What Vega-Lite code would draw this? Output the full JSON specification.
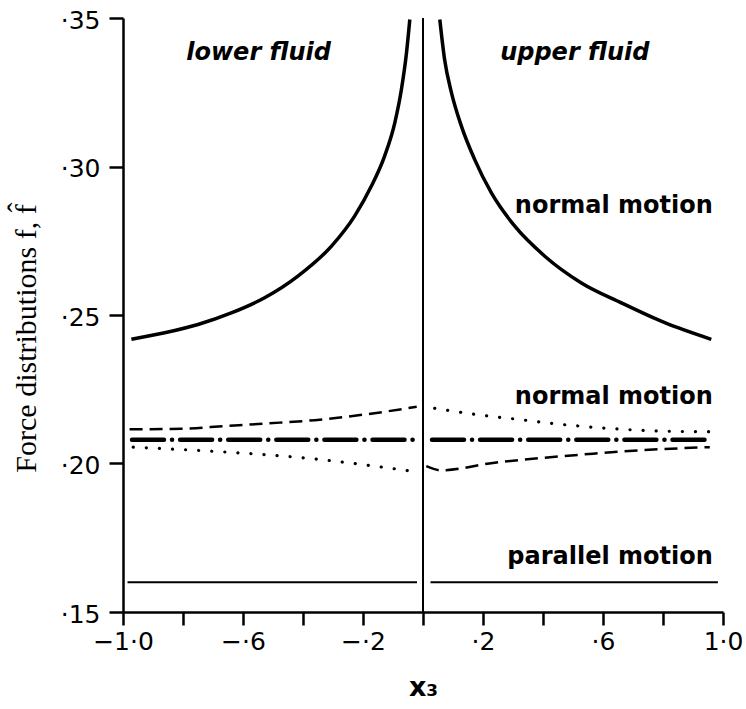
{
  "$schema": "https://vega.github.io/schema/vega-lite/v6.json",
  "width": 600,
  "height": 594,
  "autosize": {"type": "none"},
  "padding": {"left": 123, "top": 18, "right": 23, "bottom": 97},
  "background": "white",
  "config": {"view": {"stroke": null}},
  "datasets": {
    "curves": [
      {"series": "A", "side": "lower", "x": -0.972, "f": 0.2418},
      {"series": "A", "side": "lower", "x": -0.861, "f": 0.2440},
      {"series": "A", "side": "lower", "x": -0.750, "f": 0.2468},
      {"series": "A", "side": "lower", "x": -0.639, "f": 0.2507},
      {"series": "A", "side": "lower", "x": -0.528, "f": 0.2558},
      {"series": "A", "side": "lower", "x": -0.417, "f": 0.2631},
      {"series": "A", "side": "lower", "x": -0.305, "f": 0.2732},
      {"series": "A", "side": "lower", "x": -0.228, "f": 0.2833},
      {"series": "A", "side": "lower", "x": -0.172, "f": 0.2934},
      {"series": "A", "side": "lower", "x": -0.128, "f": 0.3035},
      {"series": "A", "side": "lower", "x": -0.094, "f": 0.3147},
      {"series": "A", "side": "lower", "x": -0.072, "f": 0.3259},
      {"series": "A", "side": "lower", "x": -0.055, "f": 0.3383},
      {"series": "A", "side": "lower", "x": -0.044, "f": 0.3495},
      {"series": "A", "side": "upper", "x": 0.056, "f": 0.3495},
      {"series": "A", "side": "upper", "x": 0.072, "f": 0.3360},
      {"series": "A", "side": "upper", "x": 0.095, "f": 0.3248},
      {"series": "A", "side": "upper", "x": 0.128, "f": 0.3136},
      {"series": "A", "side": "upper", "x": 0.172, "f": 0.3024},
      {"series": "A", "side": "upper", "x": 0.228, "f": 0.2911},
      {"series": "A", "side": "upper", "x": 0.306, "f": 0.2799},
      {"series": "A", "side": "upper", "x": 0.406, "f": 0.2698},
      {"series": "A", "side": "upper", "x": 0.528, "f": 0.2608},
      {"series": "A", "side": "upper", "x": 0.661, "f": 0.2541},
      {"series": "A", "side": "upper", "x": 0.806, "f": 0.2474},
      {"series": "A", "side": "upper", "x": 0.961, "f": 0.2418},
      {"series": "B", "side": "lower", "x": -0.978, "f": 0.2115},
      {"series": "B", "side": "lower", "x": -0.804, "f": 0.2117},
      {"series": "B", "side": "lower", "x": -0.661, "f": 0.2126},
      {"series": "B", "side": "lower", "x": -0.518, "f": 0.2135},
      {"series": "B", "side": "lower", "x": -0.361, "f": 0.2146},
      {"series": "B", "side": "lower", "x": -0.194, "f": 0.2165},
      {"series": "B", "side": "lower", "x": -0.021, "f": 0.2191},
      {"series": "B", "side": "upper", "x": 0.011, "f": 0.1991},
      {"series": "B", "side": "upper", "x": 0.061, "f": 0.1977},
      {"series": "B", "side": "upper", "x": 0.233, "f": 0.2002},
      {"series": "B", "side": "upper", "x": 0.400, "f": 0.2019},
      {"series": "B", "side": "upper", "x": 0.567, "f": 0.2033},
      {"series": "B", "side": "upper", "x": 0.733, "f": 0.2045},
      {"series": "B", "side": "upper", "x": 0.956, "f": 0.2055},
      {"series": "C", "side": "lower", "x": -0.966, "f": 0.2055},
      {"series": "C", "side": "lower", "x": -0.805, "f": 0.2047},
      {"series": "C", "side": "lower", "x": -0.650, "f": 0.2038},
      {"series": "C", "side": "lower", "x": -0.494, "f": 0.2027},
      {"series": "C", "side": "lower", "x": -0.339, "f": 0.2013},
      {"series": "C", "side": "lower", "x": -0.183, "f": 0.1994},
      {"series": "C", "side": "lower", "x": -0.050, "f": 0.1976},
      {"series": "C", "side": "upper", "x": 0.039, "f": 0.2186},
      {"series": "C", "side": "upper", "x": 0.178, "f": 0.2165},
      {"series": "C", "side": "upper", "x": 0.322, "f": 0.2148},
      {"series": "C", "side": "upper", "x": 0.467, "f": 0.2131},
      {"series": "C", "side": "upper", "x": 0.622, "f": 0.2118},
      {"series": "C", "side": "upper", "x": 0.800, "f": 0.2109},
      {"series": "C", "side": "upper", "x": 0.956, "f": 0.2107},
      {"series": "D", "side": "lower", "x": -0.970, "f": 0.208},
      {"series": "D", "side": "lower", "x": -0.020, "f": 0.208},
      {"series": "D", "side": "upper", "x": 0.030, "f": 0.208},
      {"series": "D", "side": "upper", "x": 0.960, "f": 0.208},
      {"series": "E", "side": "lower", "x": -0.985, "f": 0.160},
      {"series": "E", "side": "lower", "x": -0.020, "f": 0.160},
      {"series": "E", "side": "upper", "x": 0.025, "f": 0.160},
      {"series": "E", "side": "upper", "x": 0.983, "f": 0.160}
    ],
    "labels": [
      {"kind": "region", "label": "lower fluid", "x": -0.548, "f": 0.3360},
      {"kind": "region", "label": "upper fluid", "x": 0.506, "f": 0.3360},
      {"kind": "motion", "label": "normal motion", "x": 0.966, "f": 0.2845},
      {"kind": "motion", "label": "normal motion", "x": 0.966, "f": 0.2202},
      {"kind": "motion", "label": "parallel motion", "x": 0.966, "f": 0.1660}
    ],
    "interface": [
      {"x": 0}
    ]
  },
  "layer": [
    {
      "data": {"name": "curves"},
      "transform": [{"filter": "datum.series == 'E'"}],
      "mark": {"type": "line", "color": "black", "strokeWidth": 2},
      "encoding": {
        "x": {
          "field": "x", "type": "quantitative",
          "scale": {"domain": [-1, 1], "nice": false, "zero": false},
          "axis": {
            "values": [-1, -0.8, -0.6, -0.4, -0.2, 0, 0.2, 0.4, 0.6, 0.8, 1],
            "labelExpr": "abs(datum.value+1)<0.01 ? '−1·0' : abs(datum.value+0.6)<0.01 ? '−·6' : abs(datum.value+0.2)<0.01 ? '−·2' : abs(datum.value-0.2)<0.01 ? '·2' : abs(datum.value-0.6)<0.01 ? '·6' : abs(datum.value-1)<0.01 ? '1·0' : ''",
            "title": "x₃",
            "grid": false,
            "domainColor": "black", "domainWidth": 2.5,
            "tickColor": "black", "tickWidth": 2.5, "tickSize": 13,
            "labelFont": "DejaVu Sans", "labelFontSize": 25, "labelColor": "black",
            "labelPadding": 4, "labelFlush": false, "labelOverlap": false,
            "titleFont": "DejaVu Sans", "titleFontSize": 27, "titleFontWeight": "bold",
            "titleColor": "black", "titlePadding": 20
          }
        },
        "y": {
          "field": "f", "type": "quantitative",
          "scale": {"domain": [0.15, 0.35], "nice": false, "zero": false},
          "axis": {
            "values": [0.15, 0.2, 0.25, 0.3, 0.35],
            "labelExpr": "'·' + format(datum.value*100, '.0f')",
            "title": "Force distributions f, f̂",
            "grid": false,
            "domainColor": "black", "domainWidth": 2.5,
            "tickColor": "black", "tickWidth": 2.5, "tickSize": 14,
            "labelFont": "DejaVu Sans", "labelFontSize": 25, "labelColor": "black",
            "labelPadding": 9, "labelOffset": 2, "labelFlush": false, "labelOverlap": false,
            "titleFont": "Liberation Serif", "titleFontSize": 30, "titleFontWeight": "normal",
            "titleColor": "black", "titleX": -97, "titleY": 320, "titleAngle": 270,
            "titleAlign": "center", "titleBaseline": "middle"
          }
        },
        "detail": {"field": "side"}
      }
    },
    {
      "data": {"name": "curves"},
      "transform": [{"filter": "datum.series == 'A'"}],
      "mark": {"type": "line", "color": "black", "strokeWidth": 3.5, "interpolate": "monotone"},
      "encoding": {
        "x": {"field": "x", "type": "quantitative", "scale": {"domain": [-1, 1], "nice": false, "zero": false}},
        "y": {"field": "f", "type": "quantitative", "scale": {"domain": [0.15, 0.35], "nice": false, "zero": false}},
        "detail": {"field": "side"}
      }
    },
    {
      "data": {"name": "curves"},
      "transform": [{"filter": "datum.series == 'B'"}],
      "mark": {"type": "line", "color": "black", "strokeWidth": 2.5, "strokeDash": [13, 7], "interpolate": "monotone"},
      "encoding": {
        "x": {"field": "x", "type": "quantitative", "scale": {"domain": [-1, 1], "nice": false, "zero": false}},
        "y": {"field": "f", "type": "quantitative", "scale": {"domain": [0.15, 0.35], "nice": false, "zero": false}},
        "detail": {"field": "side"}
      }
    },
    {
      "data": {"name": "curves"},
      "transform": [{"filter": "datum.series == 'C'"}],
      "mark": {"type": "line", "color": "black", "strokeWidth": 3.2, "strokeDash": [0.1, 13], "strokeCap": "round", "interpolate": "monotone"},
      "encoding": {
        "x": {"field": "x", "type": "quantitative", "scale": {"domain": [-1, 1], "nice": false, "zero": false}},
        "y": {"field": "f", "type": "quantitative", "scale": {"domain": [0.15, 0.35], "nice": false, "zero": false}},
        "detail": {"field": "side"}
      }
    },
    {
      "data": {"name": "curves"},
      "transform": [{"filter": "datum.series == 'D'"}],
      "mark": {"type": "line", "color": "black", "strokeWidth": 4.5, "strokeDash": [32, 8, 0.1, 8], "strokeCap": "round"},
      "encoding": {
        "x": {"field": "x", "type": "quantitative", "scale": {"domain": [-1, 1], "nice": false, "zero": false}},
        "y": {"field": "f", "type": "quantitative", "scale": {"domain": [0.15, 0.35], "nice": false, "zero": false}},
        "detail": {"field": "side"}
      }
    },
    {
      "data": {"name": "interface"},
      "mark": {"type": "rule", "color": "black", "strokeWidth": 2},
      "encoding": {
        "x": {"field": "x", "type": "quantitative", "scale": {"domain": [-1, 1], "nice": false, "zero": false}}
      }
    },
    {
      "data": {"name": "labels"},
      "transform": [{"filter": "datum.kind == 'region'"}],
      "mark": {"type": "text", "font": "DejaVu Sans", "fontSize": 24, "fontWeight": "bold", "fontStyle": "italic", "align": "center", "baseline": "alphabetic", "color": "black"},
      "encoding": {
        "x": {"field": "x", "type": "quantitative", "scale": {"domain": [-1, 1], "nice": false, "zero": false}},
        "y": {"field": "f", "type": "quantitative", "scale": {"domain": [0.15, 0.35], "nice": false, "zero": false}},
        "text": {"field": "label"}
      }
    },
    {
      "data": {"name": "labels"},
      "transform": [{"filter": "datum.kind == 'motion'"}],
      "mark": {"type": "text", "font": "DejaVu Sans", "fontSize": 24, "fontWeight": "bold", "align": "right", "baseline": "alphabetic", "color": "black"},
      "encoding": {
        "x": {"field": "x", "type": "quantitative", "scale": {"domain": [-1, 1], "nice": false, "zero": false}},
        "y": {"field": "f", "type": "quantitative", "scale": {"domain": [0.15, 0.35], "nice": false, "zero": false}},
        "text": {"field": "label"}
      }
    }
  ]
}
